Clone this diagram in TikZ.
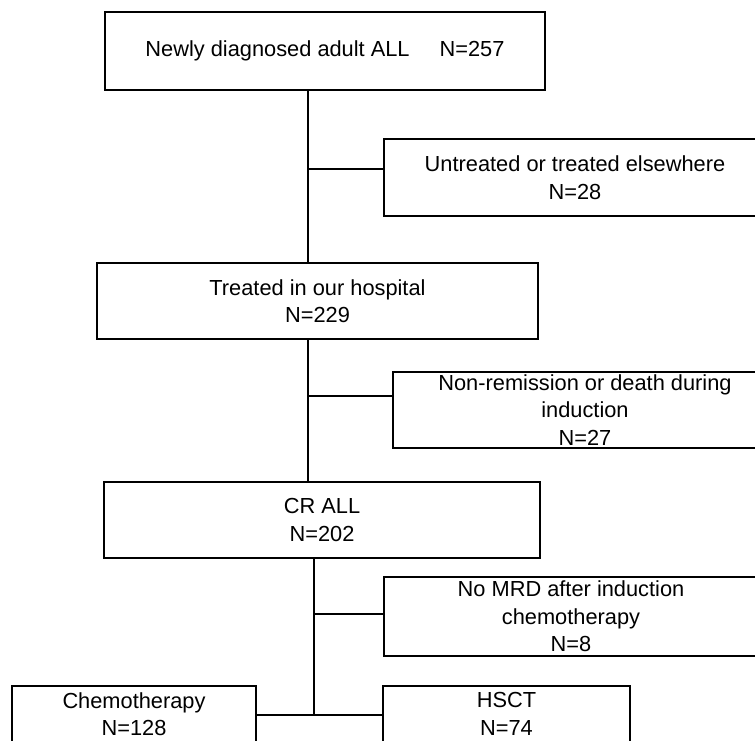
\documentclass[tikz,border=0pt]{standalone}
\usepackage{fontspec}
\setmainfont{Liberation Sans}
\begin{document}
\begin{tikzpicture}[x=1pt,y=-1pt,
  box/.style={draw=black, line width=1.3pt, rectangle, inner sep=0pt, align=center,
    font=\fontsize{21.8}{27.5}\selectfont},
  lowbox/.style={box, minimum height=70pt, text depth=14pt},
  link/.style={draw=black, line width=1.3pt}]
\useasboundingbox (0,0) rectangle (755,740);
\clip (0,0) rectangle (755,740);
% main boxes
\node[box, minimum width=440pt, minimum height=78pt] (b1) at (325,51)
  {Newly diagnosed adult ALL\hspace{30pt}N=257};
\node[box, minimum width=441pt, minimum height=76pt] (b2) at (317.5,301)
  {Treated in our hospital\\N=229};
\node[box, minimum width=436pt, minimum height=76pt] (b3) at (322,520)
  {CR ALL\\N=202};
% side boxes
\node[box, minimum width=382pt, minimum height=77pt] (s1) at (575,177.5)
  {Untreated or treated elsewhere\\N=28};
\node[box, minimum width=384pt, minimum height=76pt] (s2) at (585,410)
  {Non-remission or death during\\induction\\N=27};
\node[box, minimum width=374pt, minimum height=79pt] (s3) at (571,616.5)
  {No MRD after induction\\chemotherapy\\N=8};
% bottom boxes (run past the lower edge)
\node[lowbox, minimum width=244pt] (chemo) at (134,721)
  {Chemotherapy\\N=128};
\node[lowbox, minimum width=247pt] (hsct) at (506.5,721)
  {HSCT\\N=74};
% junctions
\coordinate (j1) at (308,169);
\coordinate (j2) at (308,396);
\coordinate (j3) at (314,614);
\coordinate (j4) at (314,715);
% connectors
\draw[link] (b1.south -| j1) -- (b2.north -| j1);
\draw[link] (j1) -- (j1 -| s1.west);
\draw[link] (b2.south -| j2) -- (b3.north -| j2);
\draw[link] (j2) -- (j2 -| s2.west);
\draw[link] (b3.south -| j3) -- (j4);
\draw[link] (j3) -- (j3 -| s3.west);
\draw[link] (chemo.east |- j4) -- (hsct.west |- j4);
\end{tikzpicture}
\end{document}
